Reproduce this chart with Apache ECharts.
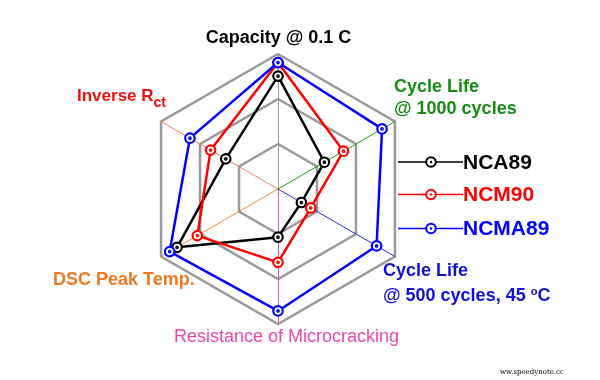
<!DOCTYPE html>
<html>
<head>
<meta charset="utf-8">
<script src="https://cdn.jsdelivr.net/npm/echarts@6/dist/echarts.min.js"></script>
<style>html,body{margin:0;padding:0;background:#fff}#c{width:600px;height:380px}</style>
</head>
<body>
<div id="c"></div>
<script>
// Indicators listed counter-clockwise starting at the top (ECharts radar order)
var categories = ['Capacity @ 0.1 C', 'Inverse Rct', 'DSC Peak Temp.', 'Resistance of Microcracking', 'Cycle Life @ 500 cycles, 45 oC', 'Cycle Life @ 1000 cycles'];
var axisColors = ['#999999', '#f08060', '#f08a40', '#e050b8', '#3030e0', '#20a020'];
var axisMax = 3;
var seriesNames = ['NCA89', 'NCM90', 'NCMA89'];
var seriesColors = ['#000000', '#ff0000', '#0000ff'];
var nca89 = [2.51, 1.34, 2.59, 1.07, 0.60, 1.19];
var ncm90 = [2.81, 1.73, 2.07, 1.63, 0.84, 1.68];
var ncma89 = [2.81, 2.26, 2.78, 2.71, 2.53, 2.67];
var seriesValues = [nca89, ncm90, ncma89];

var ringSymbol = 'path://M0,-10A10,10 0 1,1 0,10A10,10 0 1,1 0,-10Z M0,-1.6A1.6,1.6 0 1,1 0,1.6A1.6,1.6 0 1,1 0,-1.6Z';

var chart = echarts.init(document.getElementById('c'), null, {renderer: 'canvas'});

var indicators = categories.map(function (n, i) {
  return {name: n, min: 0, max: axisMax, axisLine: {lineStyle: {color: axisColors[i], width: 1}}};
});

var series = seriesNames.map(function (n, i) {
  return {
    type: 'radar',
    name: n,
    symbol: ringSymbol,
    symbolSize: 9.5,
    lineStyle: {color: seriesColors[i], width: 2.5},
    itemStyle: {color: '#ffffff', borderColor: seriesColors[i], borderWidth: 2.2},
    z: 3 + i,
    data: [{name: n, value: seriesValues[i]}]
  };
});

var F = '"Liberation Sans", Arial, sans-serif';
var graphics = [];
// axis titles
function txt(text, x, y, size, color, align, weight) {
  graphics.push({type: 'text', style: {text: text, x: x, y: y, font: (weight || 'bold') + ' ' + size + 'px ' + F, fill: color, align: align || 'left', verticalAlign: 'middle'}});
}
txt('Capacity @ 0.1 C', 278.5, 38, 18, '#000000', 'center');
txt('Cycle Life', 394, 87.5, 18, '#158a15');
txt('@ 1000 cycles', 394, 109.5, 18, '#158a15');
txt('Cycle Life', 383, 271, 18, '#1010d8');
graphics.push({type: 'text', style: {
  text: '{a|@ 500 cycles, 45 }{s|o}{a|C}', x: 383, y: 296, align: 'left', verticalAlign: 'middle',
  rich: {a: {font: 'bold 18px ' + F, fill: '#1010d8', lineHeight: 20},
         s: {font: 'bold 11px ' + F, fill: '#1010d8', lineHeight: 11, verticalAlign: 'top'}}
}});
txt('Resistance of Microcracking', 286.5, 337, 18, '#e848b0', 'center', 'normal');
txt('DSC Peak Temp.', 53, 280.5, 18, '#f07820');
graphics.push({type: 'text', style: {
  text: '{a|Inverse R}{s|ct}', x: 77, y: 99, align: 'left', verticalAlign: 'middle',
  rich: {a: {font: 'bold 17px ' + F, fill: '#ee1111', lineHeight: 22, verticalAlign: 'top'},
         s: {font: 'bold 14px ' + F, fill: '#ee1111', lineHeight: 14, verticalAlign: 'bottom'}}
}});
// legend
var legendY = [162, 194.5, 228.5];
seriesNames.forEach(function (n, i) {
  var c = seriesColors[i];
  graphics.push({type: 'line', shape: {x1: 398, y1: legendY[i], x2: 463, y2: legendY[i]}, style: {stroke: c, lineWidth: 1.5}});
  graphics.push({type: 'circle', shape: {cx: 431, cy: legendY[i], r: 4.8}, style: {fill: '#fff', stroke: c, lineWidth: 2}});
  graphics.push({type: 'circle', shape: {cx: 431, cy: legendY[i], r: 1.2}, style: {fill: c}});
  graphics.push({type: 'text', style: {text: n, x: 463, y: legendY[i] + 1, font: 'bold 21px ' + F, fill: c, align: 'left', verticalAlign: 'middle'}});
});
graphics.push({type: 'text', style: {text: 'ww.speedynote.cc', x: 500, y: 372, font: '7px "DejaVu Serif", serif', fill: '#000', align: 'left', verticalAlign: 'middle'}});

chart.setOption({
  animation: false,
  backgroundColor: '#ffffff',
  radar: {
    center: [278, 189],
    radius: 135,
    startAngle: 90,
    splitNumber: 3,
    shape: 'polygon',
    axisName: {show: false},
    splitLine: {lineStyle: {color: '#9a9a9a', width: 2.5}},
    splitArea: {show: false},
    axisLine: {lineStyle: {color: '#999999', width: 1}},
    indicator: indicators
  },
  graphic: graphics,
  series: series
});
</script>
</body>
</html>
